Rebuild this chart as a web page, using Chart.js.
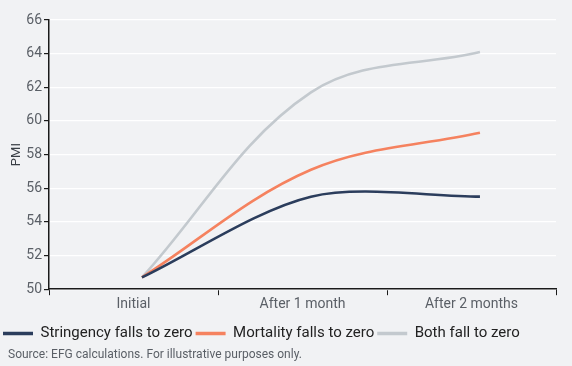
<!DOCTYPE html>
<html>
<head>
<meta charset="utf-8">
<script src="https://cdn.jsdelivr.net/npm/chart.js"></script>
<style>
  html, body { margin: 0; padding: 0; background: #f1f2f4; }
  #wrap { position: relative; width: 572px; height: 366px; background: #f1f2f4; }
  #chart { position: absolute; left: 0; top: 0; }
  #source {
    position: absolute; left: 8px; top: 347px;
    font-family: Roboto, sans-serif; font-size: 12px; color: #5a5f66;
  }
</style>
</head>
<body>
<div id="wrap">
  <canvas id="chart" width="572" height="351"></canvas>
  <div id="source">Source: EFG calculations. For illustrative purposes only.</div>
</div>
<script>
// Categories and series (PMI)
const categories = ['Initial', 'After 1 month', 'After 2 months'];
const stringency = [50.7, 55.5, 55.5];
const mortality = [50.7, 57.1, 59.3];
const both = [50.7, 61.7, 64.1];

const yTicks = [50, 52, 54, 56, 58, 60, 62, 64, 66];

const FONT = 'Roboto, sans-serif';

// Y axis fixed width so the plot starts where the original one does
const plotLeft = 49;

// points sit a little to the right of the category centres in the original
const pts = arr => arr.map((v, i) => ({ x: i, y: v }));

function line(label, values, color, tension) {
    return {
        label: label,
        data: pts(values),
        xAxisID: 'xd',
        borderColor: color,
        backgroundColor: color,
        borderWidth: 2.6,
        pointRadius: 0,
        tension: tension
    };
}

const ctx = document.getElementById('chart');

new Chart(ctx, {
    type: 'line',
    data: {
        labels: categories,
        datasets: [
            line('Stringency falls to zero', stringency, '#2b3d5c', 0.3),
            line('Mortality falls to zero', mortality, '#f5825f', 0.35),
            line('Both fall to zero', both, '#c3c9ce', 0.36)
        ]
    },
    options: {
        responsive: false,
        animation: false,
        layout: {
            padding: { left: 0, right: 16, top: 20, bottom: 0 }
        },
        plugins: {
            tooltip: { enabled: false },
            legend: {
                display: true,
                position: 'bottom',
                align: 'start',
                labels: {
                    font: { family: FONT, size: 15 },
                    color: '#222',
                    usePointStyle: true,
                    pointStyle: 'line',
                    pointStyleWidth: 30,
                    boxWidth: 30,
                    padding: 3,
                    generateLabels(chart) {
                        return chart.data.datasets.map((ds, i) => ({
                            text: ds.label,
                            strokeStyle: ds.borderColor,
                            fillStyle: ds.borderColor,
                            lineWidth: 3.5,
                            pointStyle: 'line',
                            datasetIndex: i,
                            fontColor: '#222'
                        }));
                    }
                }
            }
        },
        scales: {
            x: {
                type: 'category',
                offset: true,
                afterFit(scale) {
                    scale.height += 9;
                },
                border: { display: true, color: '#1a1a1a', width: 1.5 },
                grid: {
                    offset: true,
                    drawOnChartArea: false,
                    drawTicks: true,
                    tickLength: 6,
                    color: '#1a1a1a'
                },
                ticks: {
                    font: { family: FONT, size: 14 },
                    color: '#5a5f66',
                    padding: 1
                }
            },
            xd: {
                type: 'linear',
                display: false,
                min: -0.55,
                max: 2.45
            },
            y: {
                min: 50,
                max: 66,
                afterFit(scale) {
                    scale.width = plotLeft;
                },
                afterBuildTicks(scale) {
                    scale.ticks = yTicks.map(v => ({ value: v }));
                },
                border: { display: true, color: '#1a1a1a', width: 1.5 },
                grid: {
                    color: '#ffffff',
                    lineWidth: 1.2,
                    drawTicks: true,
                    tickLength: 5,
                    tickColor: '#1a1a1a'
                },
                title: {
                    display: true,
                    text: 'PMI',
                    font: { family: FONT, size: 13 },
                    color: '#3a3f46',
                    padding: { top: 9, bottom: 0 }
                },
                ticks: {
                    font: { family: FONT, size: 14 },
                    color: '#5a5f66',
                    padding: 2
                }
            }
        }
    }
});
</script>
</body>
</html>
